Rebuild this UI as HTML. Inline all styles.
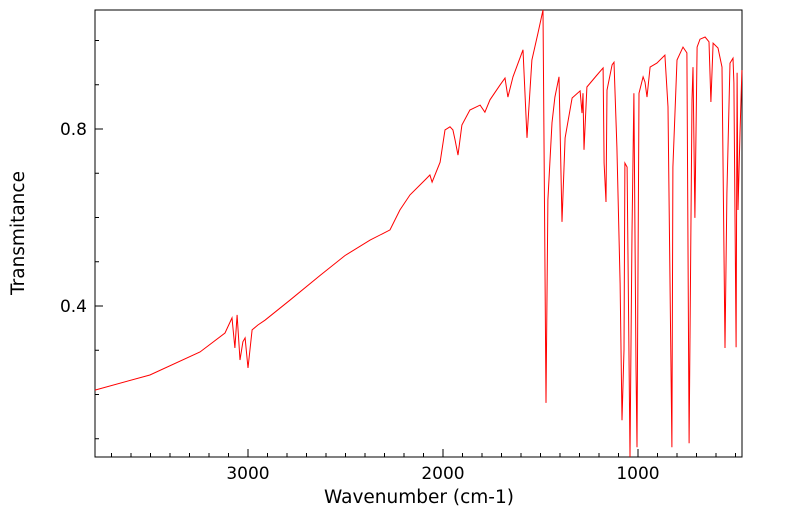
<!DOCTYPE html>
<html><head><meta charset="utf-8"><style>
body{margin:0;background:#fff;}
svg text{font-family:"DejaVu Sans","Liberation Sans",sans-serif;}
</style></head><body>
<svg id="chart" width="799" height="516" xmlns="http://www.w3.org/2000/svg">
<rect x="95" y="10" width="647" height="447" fill="none" stroke="#000" stroke-width="1"/>
<g id="ticks"></g>
<path id="spectrum" fill="none" stroke="#ff0000" stroke-width="1"/>
<text x="419" y="503" font-size="18.5" text-anchor="middle">Wavenumber (cm-1)</text>
<text transform="translate(24,233) rotate(-90)" font-size="18.5" text-anchor="middle">Transmitance</text>
</svg>
<script>
const wavenumbers=[3785,3503,3246,3118,3082,3067,3056,3041,3026,3015,3000,2979,2949,2913,2785,2631,2503,2374,2272,2221,2169,2092,2067,2056,2015,1990,1964,1949,1938,1923,1903,1862,1810,1785,1759,1708,1682,1667,1641,1590,1569,1544,1513,1487,1472,1462,1441,1426,1405,1390,1374,1338,1297,1287,1282,1277,1262,1210,1179,1174,1164,1159,1133,1123,1108,1092,1082,1072,1067,1056,1041,1031,1021,1010,1005,995,974,964,954,938,903,862,846,826,821,800,769,749,738,723,718,708,697,682,656,636,626,615,590,569,554,544,528,513,508,497,492,487,477,467];
const transmittance=[.210,.244,.296,.339,.373,.305,.380,.278,.319,.328,.260,.346,.357,.368,.413,.469,.514,.549,.572,.617,.651,.685,.696,.680,.725,.798,.805,.798,.775,.741,.809,.843,.854,.838,.866,.899,.915,.872,.918,.979,.780,.956,1.017,1.069,.181,.640,.814,.872,.918,.590,.780,.870,.886,.836,.881,.753,.895,.922,.938,.723,.635,.888,.945,.951,.759,.452,.142,.301,.723,.714,.059,.565,.881,.262,.081,.881,.918,.906,.872,.940,.949,.967,.850,.081,.714,.956,.985,.972,.090,.866,.940,.599,.985,1.003,1.008,.997,.861,.994,.983,.940,.305,.655,.949,.960,.904,.307,.927,.617,.791,.933];
const xTickLabels=[3000,2000,1000];
const yTickLabels=[0.4,0.8];
const NS="http://www.w3.org/2000/svg";
function xs(w){return 248+(3000-w)*0.195;}
function ys(t){return 129-(t-0.8)*442.5;}
let d="";
for(let i=0;i<wavenumbers.length;i++){d+=(i?"L":"M")+xs(wavenumbers[i]).toFixed(1)+","+ys(transmittance[i]).toFixed(1);}
document.getElementById("spectrum").setAttribute("d",d);
const g=document.getElementById("ticks");
function line(x1,y1,x2,y2,name){const l=document.createElementNS(NS,"line");
l.setAttribute("x1",x1);l.setAttribute("y1",y1);l.setAttribute("x2",x2);l.setAttribute("y2",y2);l.setAttribute("stroke","#000");


g.appendChild(l);}
function txt(x,y,s,anchor,name){const t=document.createElementNS(NS,"text");
t.setAttribute("x",x);t.setAttribute("y",y);t.setAttribute("font-size","17");t.setAttribute("text-anchor",anchor);t.textContent=s;


g.appendChild(t);}
for(let w=500;w<=3700;w+=100){const x=xs(w);if(x<95||x>742)continue;const major=w%1000===0;line(x,457,x,major?449:453,"x-tick");}
xTickLabels.forEach(w=>txt(xs(w),479,String(w),"middle","x-tick-label"));
for(let k=1;k<=10;k++){const t=k/10;const y=ys(t);if(y<10||y>457)continue;const major=(k%4===0);line(95,y,major?103:99,y,"y-tick");}
yTickLabels.forEach(t=>txt(87,ys(t)+6,t.toFixed(1),"end","y-tick-label"));
</script>
</body></html>
